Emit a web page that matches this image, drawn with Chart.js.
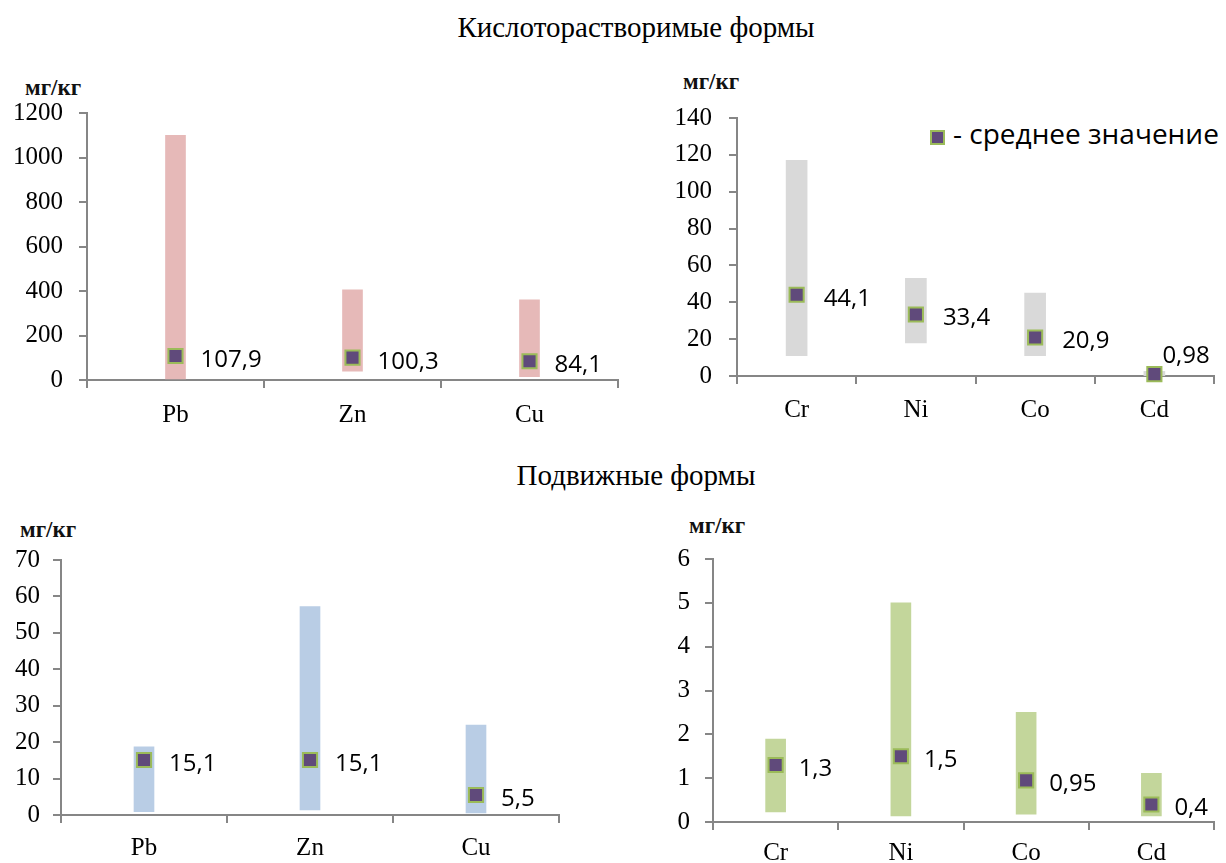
<!DOCTYPE html>
<html lang="ru">
<head>
<meta charset="utf-8">
<title>Кислоторастворимые и подвижные формы</title>
<script src="https://cdn.jsdelivr.net/npm/chart.js@4.4.1/dist/chart.umd.min.js"></script>
<style>
  html, body { margin: 0; padding: 0; background: #fff; }
  body { width: 1226px; height: 863px; position: relative; overflow: hidden; }
  .box { position: absolute; }
  .title {
    position: absolute; left: 0; width: 1272px; text-align: center;
    font-family: "Liberation Serif", "Times New Roman", serif; font-size: 29px;
    line-height: 1; color: #000; white-space: nowrap;
  }
  .unit {
    position: absolute; font-family: "Liberation Serif", "Times New Roman", serif;
    font-weight: bold; font-size: 23px; line-height: 1; color: #111; white-space: nowrap;
  }
  .legend-mark {
    position: absolute; left: 930px; top: 130px; width: 15px; height: 15px;
    box-sizing: border-box; background: #604A7B; border: 2px solid #9BBB59;
  }
  .legend-text {
    position: absolute; left: 953px; top: 119px; font-family: "Open Sans", sans-serif;
    font-size: 28px; line-height: 1; color: #000; white-space: nowrap;
  }
</style>
</head>
<body>
<div class="title" style="top:13px">Кислоторастворимые формы</div>
<div class="title" style="top:461px">Подвижные формы</div>
<div class="unit" style="left:25px; top:76px">мг/кг</div>
<div class="unit" style="left:683px; top:70px">мг/кг</div>
<div class="unit" style="left:20px; top:518px">мг/кг</div>
<div class="unit" style="left:689px; top:514px">мг/кг</div>
<div class="legend-mark"></div>
<div class="legend-text">- среднее значение</div>

<script>
// кислоторастворимые формы
const metalsA = ['Pb', 'Zn', 'Cu'];
const acidMinA = [5, 40, 15];
const acidMaxA = [1100, 405, 360];
const acidMeanA = [107.9, 100.3, 84.1];

const metalsB = ['Cr', 'Ni', 'Co', 'Cd'];
const acidMinB = [11, 18, 11, 0.2];
const acidMaxB = [117, 53, 45, 2.5];
const acidMeanB = [44.1, 33.4, 20.9, 0.98];

// подвижные формы
const mobMinA = [0.9, 1.4, 0.6];
const mobMaxA = [18.7, 57.2, 24.7];
const mobMeanA = [15.1, 15.1, 5.5];

const mobMinB = [0.23, 0.14, 0.18, 0.14];
const mobMaxB = [1.89, 5.0, 2.5, 1.11];
const mobMeanB = [1.3, 1.5, 0.95, 0.4];

Chart.defaults.font.family = '"Liberation Serif", "Times New Roman", serif';
Chart.defaults.color = '#000';

const axisGrey = '#868686';

function makePanel(p) {
  const box = document.createElement('div');
  box.className = 'box';
  box.style.left = p.box[0] + 'px';
  box.style.top = p.box[1] + 'px';
  box.style.width = (p.box[2] - p.box[0]) + 'px';
  box.style.height = (p.box[3] - p.box[1]) + 'px';
  const canvas = document.createElement('canvas');
  box.appendChild(canvas);
  document.body.appendChild(box);

  const yW = p.area[0] - p.box[0];
  const padTop = p.area[1] - p.box[1];
  const padRight = p.box[2] - p.area[2];
  const xH = p.box[3] - p.area[3];

  const meanLabels = {
    id: 'meanLabels',
    afterDatasetsDraw(chart) {
      const ctx = chart.ctx;
      const meta = chart.getDatasetMeta(0);
      ctx.save();
      ctx.font = '24px "Open Sans"';
      ctx.fillStyle = '#000';
      ctx.textAlign = 'left';
      ctx.textBaseline = 'middle';
      meta.data.forEach((pt, i) => {
        const off = (p.shift && p.shift[i]) || [p.dx, p.dy];
        ctx.fillText(String(p.mean[i]).replace('.', ','), pt.x + off[0], pt.y + off[1]);
      });
      ctx.restore();
    }
  };

  new Chart(canvas, {
    type: 'bar',
    data: {
      labels: p.labels,
      datasets: [
        {
          type: 'line',
          label: 'среднее значение',
          data: p.mean,
          showLine: false,
          pointStyle: 'rect',
          pointRadius: 10,
          pointHoverRadius: 10,
          pointBackgroundColor: '#604A7B',
          pointBorderColor: '#9BBB59',
          pointBorderWidth: 2,
          clip: false,
          order: 0
        },
        {
          label: 'диапазон',
          data: p.min.map((m, i) => [m, p.max[i]]),
          backgroundColor: p.color,
          barThickness: p.barW,
          order: 1
        }
      ]
    },
    options: {
      responsive: true,
      maintainAspectRatio: false,
      animation: false,
      events: [],
      layout: { padding: { top: padTop, right: padRight, left: 0, bottom: 0 } },
      plugins: { legend: { display: false }, tooltip: { enabled: false } },
      scales: {
        x: {
          grid: { drawOnChartArea: false, tickLength: 8, color: axisGrey, lineWidth: 2 },
          border: { color: axisGrey, width: 2 },
          ticks: { font: { size: 25 }, color: '#000', padding: p.xPad },
          afterFit(s) { s.height = xH; }
        },
        y: {
          min: 0,
          max: p.top,
          grid: { drawOnChartArea: false, tickLength: 8, color: axisGrey, lineWidth: 2 },
          border: { color: axisGrey, width: 2 },
          ticks: {
            stepSize: p.step, font: { size: 25 }, color: '#000', padding: p.yPad,
            callback: (v) => String(v)
          },
          afterFit(s) { s.width = yW; }
        }
      }
    },
    plugins: [meanLabels]
  });
}

makePanel({
  box: [0, 75, 630, 440], area: [87, 113, 618, 380],
  labels: metalsA, min: acidMinA, max: acidMaxA, mean: acidMeanA,
  color: '#E6B9B8', barW: 20, top: 1200, step: 200,
  yPad: 16, xPad: 12, dx: 25, dy: 4
});

makePanel({
  box: [630, 75, 1226, 440], area: [737, 118, 1226, 376],
  labels: metalsB, min: acidMinB, max: acidMaxB, mean: acidMeanB,
  color: '#D9D9D9', barW: 21, top: 140, step: 20,
  yPad: 17, xPad: 11, dx: 27, dy: 4,
  shift: { 3: [8, -18] }
});

makePanel({
  box: [0, 520, 630, 863], area: [61, 560, 559, 815],
  labels: metalsA, min: mobMinA, max: mobMaxA, mean: mobMeanA,
  color: '#B9CDE5', barW: 20, top: 70, step: 10,
  yPad: 13, xPad: 10, dx: 25, dy: 4
});

makePanel({
  box: [630, 520, 1226, 863], area: [713, 559, 1221, 822],
  labels: metalsB, min: mobMinB, max: mobMaxB, mean: mobMeanB,
  color: '#C3D69B', barW: 20, top: 6, step: 1,
  yPad: 15, xPad: 8, dx: 23, dy: 4
});
</script>
</body>
</html>
